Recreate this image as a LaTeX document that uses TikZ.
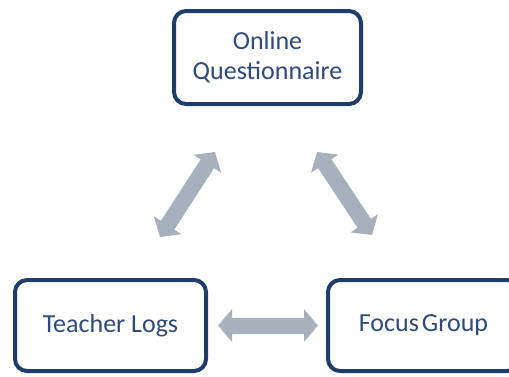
\documentclass[tikz,border=0pt]{standalone}
\usepackage{fontspec}
\setmainfont{Carlito}
\usetikzlibrary{arrows.meta}
\definecolor{boxline}{HTML}{1F3D6B}
\definecolor{boxtext}{HTML}{2E4A7D}
\definecolor{arrowfill}{HTML}{A8AFBD}
\tikzset{
  methodbox/.style={draw=boxline, line width=4pt, rounded corners=12pt, fill=white,
    text=boxtext, font=\fontsize{26}{30}\selectfont, align=center, inner sep=0pt},
  bigarrow/.style={draw=arrowfill, line width=16pt,
    {Triangle[length=14pt,width=32pt]}-{Triangle[length=14pt,width=32pt]}}
}
\begin{document}
\begin{tikzpicture}[x=1pt,y=-1pt]
\useasboundingbox (0,0) rectangle (509,376);
\clip (0,0) rectangle (509,376);
\node[methodbox, minimum width=187pt, minimum height=93pt] (OQ) at (267.5,57.5) {Online\\Questionnaire};
\node[methodbox, minimum width=191pt, minimum height=91pt] (TL) at (110.5,325.5) {Teacher Logs};
\node[methodbox, minimum width=191pt, minimum height=91pt] (FG) at (423.5,325.5) {Focus\hspace{3pt}Group};
\coordinate (l1) at (160,237);
\coordinate (l2) at (215,152);
\coordinate (r1) at (317,152);
\coordinate (r2) at (372,235);
\draw[bigarrow] (l1) -- (l2);
\draw[bigarrow] (r1) -- (r2);
\draw[bigarrow, shorten <=10pt, shorten >=8pt] (TL.east) -- (FG.west);
\end{tikzpicture}
\end{document}
